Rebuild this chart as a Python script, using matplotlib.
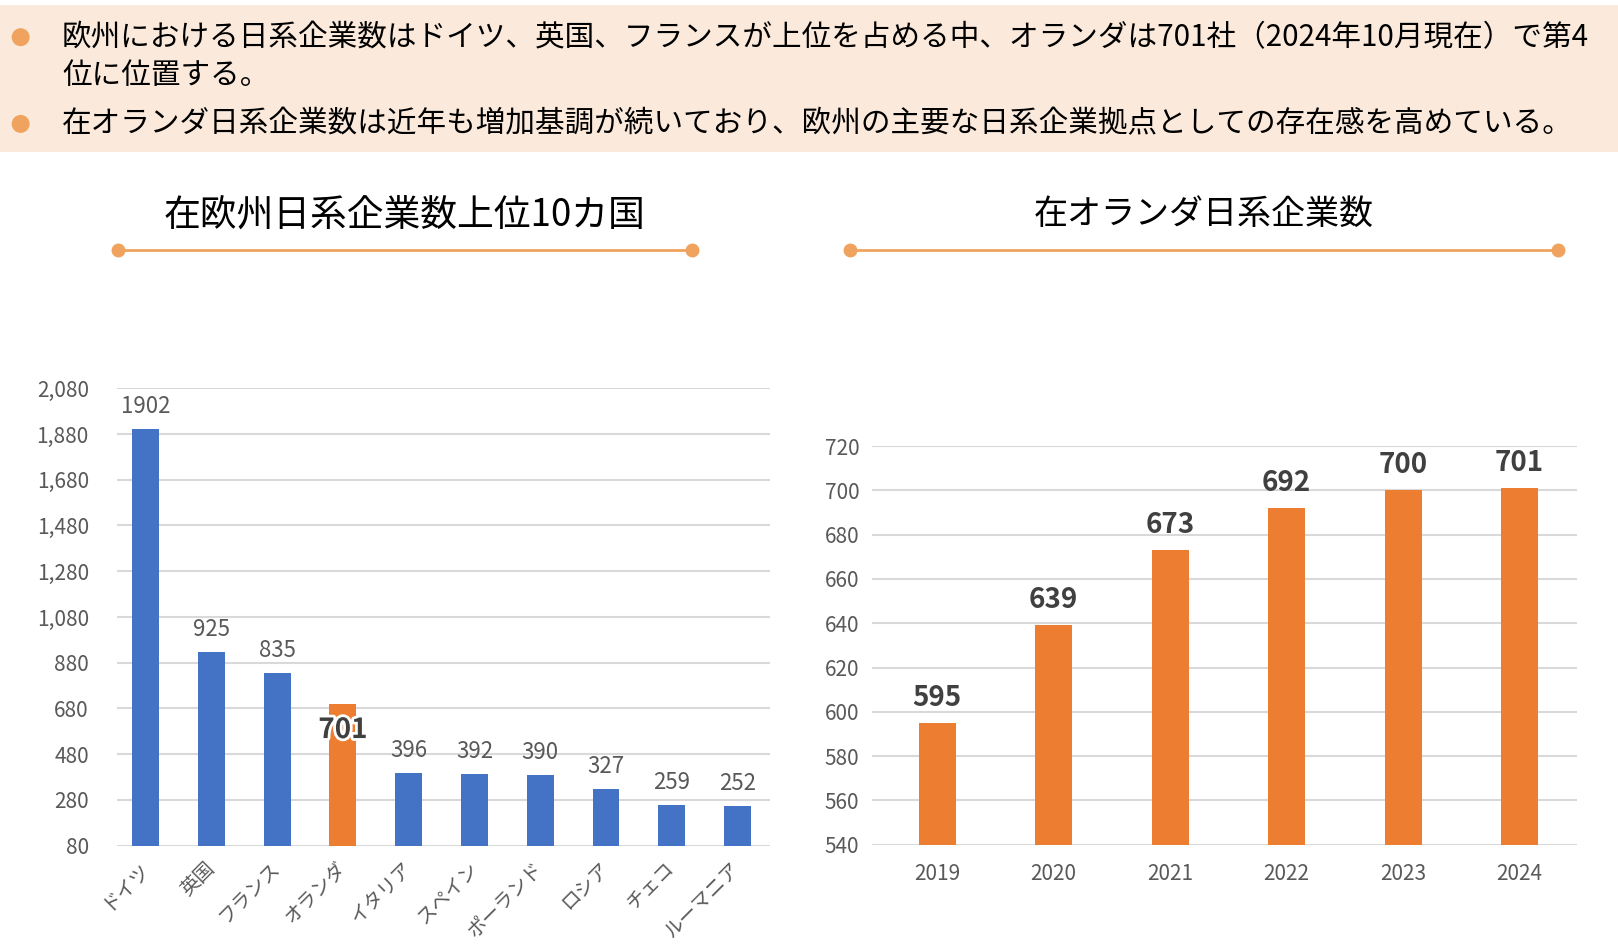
import matplotlib
matplotlib.use("Agg")
import matplotlib.pyplot as plt
import matplotlib.patheffects as pe
from matplotlib.patches import Rectangle, Ellipse
from matplotlib.lines import Line2D

plt.rcParams['font.family'] = ['Noto Sans CJK JP', 'DejaVu Sans']

# ---------------- data ----------------
countries = ['ドイツ', '英国', 'フランス', 'オランダ', 'イタリア', 'スペイン', 'ポーランド', 'ロシア', 'チェコ', 'ルーマニア']
country_counts = [1902, 925, 835, 701, 396, 392, 390, 327, 259, 252]
highlight_country = 'オランダ'
left_yticks = [80, 280, 480, 680, 880, 1080, 1280, 1480, 1680, 1880, 2080]

years = ['2019', '2020', '2021', '2022', '2023', '2024']
nl_counts = [595, 639, 673, 692, 700, 701]
right_yticks = [540, 560, 580, 600, 620, 640, 660, 680, 700, 720]

bullet_lines = [
    '欧州における日系企業数はドイツ、英国、フランスが上位を占める中、オランダは701社（2024年10月現在）で第4',
    '位に位置する。',
    '在オランダ日系企業数は近年も増加基調が続いており、欧州の主要な日系企業拠点としての存在感を高めている。',
]
title_left = '在欧州日系企業数上位10カ国'
title_right = '在オランダ日系企業数'

# ---------------- style ----------------
BLUE = '#4472C4'
ORANGE = '#ED7D31'
ACCENT = '#F0A35E'
PEACH = '#FBEADC'
GRID = '#D9D9D9'
TICK = '#595959'
DARK = '#404040'

W, H = 1568.0, 920.0  # layout reference units
FW, FH = 1618, 950
fig = plt.figure(figsize=(FW / 100, FH / 100), dpi=100)

def fx(x):
    return x / W

def fy(y):
    return 1 - y / H

# header band
fig.add_artist(Rectangle((0, fy(147)), 1, fy(5) - fy(147), transform=fig.transFigure,
                         facecolor=PEACH, edgecolor='none', zorder=0))
for yy in (36, 120):
    fig.add_artist(Ellipse((fx(20), fy(yy)), 18 / FW, 18 / FH, transform=fig.transFigure,
                           facecolor=ACCENT, edgecolor='none'))
for txt, yy in zip(bullet_lines, (36, 73, 120)):
    fig.text(fx(60), fy(yy), txt, fontsize=21.3, color='black', ha='left', va='center')

# titles with lines
for title, cx, x0, x1, fs in ((title_left, 392, 114, 671, 26.5), (title_right, 1167, 824, 1510, 24.5)):
    fig.text(fx(cx), fy(208), title, fontsize=fs, color='black', ha='center', va='center')
    fig.add_artist(Line2D([fx(x0), fx(x1)], [fy(242), fy(242)], transform=fig.transFigure,
                          color=ACCENT, lw=2))
    fig.add_artist(Line2D([fx(x0), fx(x1)], [fy(242), fy(242)], transform=fig.transFigure,
                          color=ACCENT, lw=0, marker='o', markersize=9))

# ---------------- left chart ----------------
axL = fig.add_axes([fx(113), fy(819), fx(746) - fx(113), fy(376) - fy(819)])
xs = range(len(countries))
colors = [ORANGE if c == highlight_country else BLUE for c in countries]
axL.bar(xs, [v - left_yticks[0] for v in country_counts], bottom=left_yticks[0],
        width=0.41, color=colors, zorder=3)
axL.set_ylim(left_yticks[0], left_yticks[-1])
axL.set_xlim(-0.44, len(countries) - 0.51)
axL.set_yticks(left_yticks)
axL.set_yticklabels([f'{t:,}' for t in left_yticks])
axL.yaxis.grid(True, color=GRID, lw=1.5, zorder=0)
axL.set_axisbelow(True)
for s in axL.spines.values():
    s.set_visible(False)
axL.tick_params(axis='both', length=0, colors=TICK, labelsize=15)
axL.tick_params(axis='y', pad=20)
axL.set_xticks(list(xs))
axL.set_xticklabels(countries, rotation=45, ha='right', va='center',
                    rotation_mode='anchor', fontsize=14, color=TICK)
axL.tick_params(axis='x', pad=14)
for x, c, v in zip(xs, countries, country_counts):
    if c == highlight_country:
        axL.annotate(str(v), (x, v), xytext=(0, -19), textcoords='offset points',
                     ha='center', va='center', fontsize=20, fontweight='bold', color=DARK,
                     path_effects=[pe.withStroke(linewidth=4, foreground='white')], zorder=5)
    else:
        axL.annotate(str(v), (x, v), xytext=(0, 8), textcoords='offset points',
                     ha='center', va='bottom', fontsize=16, color=TICK, zorder=5)

# ---------------- right chart ----------------
axR = fig.add_axes([fx(845), fy(818), fx(1528) - fx(845), fy(432) - fy(818)])
xr = range(len(years))
axR.bar(xr, [v - right_yticks[0] for v in nl_counts], bottom=right_yticks[0],
        width=0.32, color=ORANGE, zorder=3)
axR.set_ylim(right_yticks[0], right_yticks[-1])
axR.set_xlim(-0.56, len(years) - 0.51)
axR.set_yticks(right_yticks)
axR.yaxis.grid(True, color=GRID, lw=1.5, zorder=0)
axR.set_axisbelow(True)
for s in axR.spines.values():
    s.set_visible(False)
axR.tick_params(axis='both', length=0, colors=TICK, labelsize=15)
axR.tick_params(axis='y', pad=9)
axR.tick_params(axis='x', pad=13)
axR.set_xticks(list(xr))
axR.set_xticklabels(years)
for x, v in zip(xr, nl_counts):
    axR.annotate(str(v), (x, v), xytext=(0, 8), textcoords='offset points',
                 ha='center', va='bottom', fontsize=20, fontweight='bold', color=DARK,
                 annotation_clip=False, zorder=5)

fig.savefig('out.png', dpi=100, facecolor='white')
